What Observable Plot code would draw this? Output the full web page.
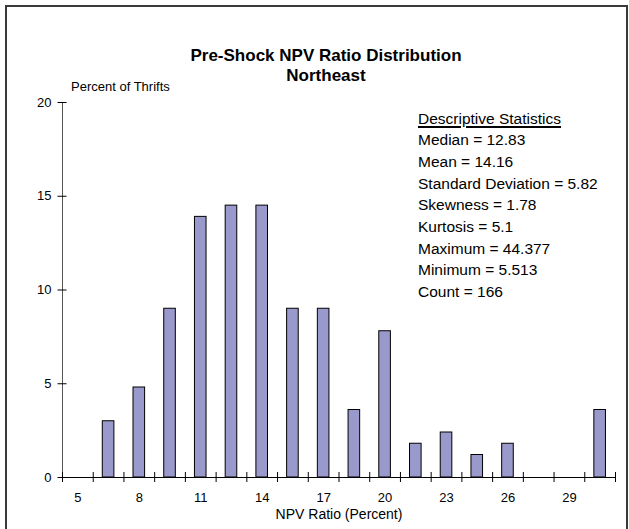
<!DOCTYPE html>
<html>
<head>
<meta charset="utf-8">
<script src="https://cdn.jsdelivr.net/npm/d3@7"></script>
<script src="https://cdn.jsdelivr.net/npm/@observablehq/plot@0.6"></script>
<style>
  html, body { margin: 0; padding: 0; background: #fff; overflow: hidden; }
  #wrap { position: relative; width: 629px; height: 529px; overflow: hidden; font-family: Arial, "Liberation Sans", sans-serif; }
  #border { position: absolute; left: 5px; top: 5px; width: 623px; height: 600px; border: 2px solid #3a3a3a; box-sizing: border-box; }
  #chart { position: absolute; left: 0; top: 0; }
  .title { position: absolute; left: 126px; width: 400px; text-align: center; font-weight: bold; font-size: 17px; line-height: 20px; color: #000; }
  .ylab { position: absolute; left: 71px; top: 79px; font-size: 13px; line-height: 16px; color: #000; }
  #stats { position: absolute; left: 418px; top: 107.5px; font-size: 15.5px; line-height: 21.7px; color: #000; }
  #stats .head { text-decoration: underline; text-decoration-thickness: 2px; text-underline-offset: 2px; }
</style>
</head>
<body>
<div id="wrap">
  <div id="chart"></div>
  <div id="border"></div>
  <div class="title" style="top:46px">Pre-Shock NPV Ratio Distribution<br>Northeast</div>
  <div class="ylab">Percent of Thrifts</div>
  <div id="stats"></div>
</div>
<script>
// Histogram bins (category centers, NPV ratio percent)
const bins = [5, 6.5, 8, 9.5, 11, 12.5, 14, 15.5, 17, 18.5, 20, 21.5, 23, 24.5, 26, 27.5, 29, 30.5];
// Percent of thrifts per bin
const pct = [0, 3.0, 4.8, 9.0, 13.9, 14.5, 14.5, 9.0, 9.0, 3.6, 7.8, 1.8, 2.4, 1.2, 1.8, 0, 0, 3.6];
// Tick labels
const xLabelTicks = [5, 8, 11, 14, 17, 20, 23, 26, 29];
const yTicks = [0, 5, 10, 15, 20];
// Descriptive statistics text
const statsTitle = "Descriptive Statistics";
const statsLines = [
  "Median = 12.83",
  "Mean = 14.16",
  "Standard Deviation = 5.82",
  "Skewness = 1.78",
  "Kurtosis = 5.1",
  "Maximum = 44.377",
  "Minimum = 5.513",
  "Count = 166"
];
const xTitle = "NPV Ratio (Percent)";

const step = 1.5;
const halfBar = 0.283;
const data = bins.map((b, i) => ({bin: b, pct: pct[i]}));
const bars = data.filter(d => d.pct > 0);
const boundaries = bins.map(b => b - step / 2).concat([bins[bins.length - 1] + step / 2]);
const blank = () => "";

const chart = Plot.plot({
  width: 629,
  height: 529,
  marginLeft: 62,
  marginRight: 14,
  marginTop: 102,
  marginBottom: 52,
  style: {fontFamily: "Arial, 'Liberation Sans', sans-serif", fontSize: "13px", color: "#000", background: "transparent"},
  x: {domain: [bins[0] - step / 2, bins[bins.length - 1] + step / 2], axis: null, label: null},
  y: {domain: [0, 20], axis: null, label: null},
  marks: [
    Plot.rectY(bars, {x1: d => d.bin - halfBar, x2: d => d.bin + halfBar, y1: 0, y2: "pct", fill: "#9999cc", stroke: "#000", strokeWidth: 1}),
    Plot.ruleY([0], {stroke: "#000", strokeWidth: 1}),
    Plot.ruleX([bins[0] - step / 2], {y1: 0, y2: 20, stroke: "#555", strokeWidth: 1}),
    Plot.axisX(boundaries, {tickSize: 10, dy: -5, tickFormat: blank, label: null, stroke: "#000"}),
    Plot.axisX(xLabelTicks, {tickSize: 0, tickPadding: 15, tickFormat: d => String(d), fontSize: 13, label: null}),
    Plot.text([xTitle], {frameAnchor: "bottom", dy: 41, fontSize: 14, fill: "#000"}),
    Plot.axisY(yTicks, {tickSize: 9, dx: 4.5, tickFormat: blank, label: null, stroke: "#000"}),
    Plot.axisY(yTicks, {tickSize: 0, tickPadding: 11, tickFormat: d => String(d), fontSize: 13, label: null})
  ]
});
document.getElementById("chart").appendChild(chart);

const stats = document.getElementById("stats");
const head = document.createElement("div");
head.className = "head";
head.textContent = statsTitle;
stats.appendChild(head);
for (const line of statsLines) {
  const el = document.createElement("div");
  el.textContent = line;
  stats.appendChild(el);
}
</script>
</body>
</html>
